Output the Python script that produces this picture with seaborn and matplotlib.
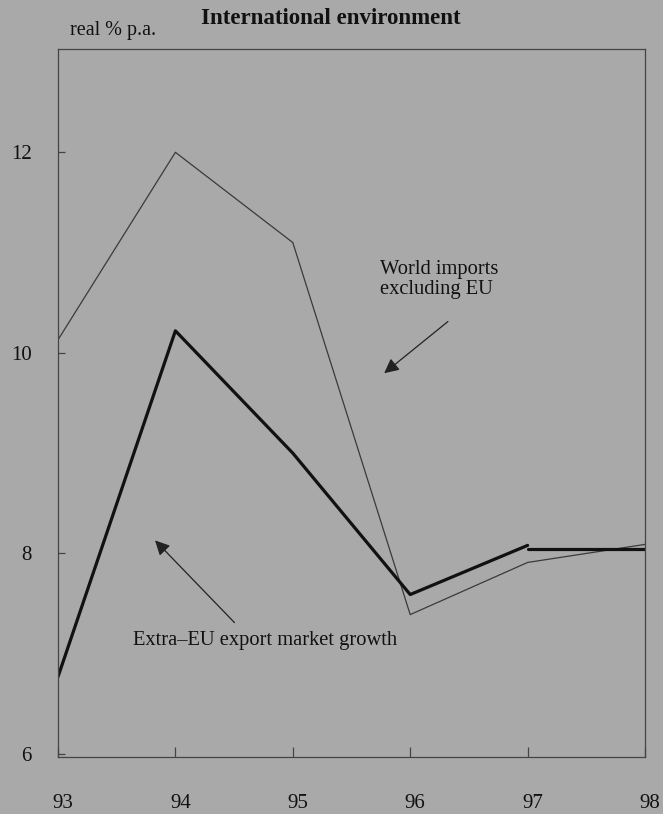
import matplotlib
matplotlib.use('Agg')
import matplotlib.pyplot as plt
import matplotlib.transforms as mtransforms
import seaborn as sns
import pandas as pd

years = [93, 94, 95, 96, 97, 98]
world_imports = [10.13, 12.0, 11.1, 7.39, 7.91, 8.09]

extra_eu_years = [93, 94, 95, 96, 97]
extra_eu = [6.77, 10.22, 9.0, 7.59, 8.08]
extra_eu_tail_years = [97, 98]
extra_eu_tail = [8.04, 8.04]

bg = '#a9a9a9'
sns.set_style('ticks')
plt.rcParams['font.family'] = ['Liberation Serif', 'DejaVu Serif']

fig = plt.figure(figsize=(6.63, 8.14), dpi=100, facecolor=bg)
ax = fig.add_axes([58 / 663, 1 - 757 / 814, (645 - 58) / 663, (757 - 49) / 814])
ax.set_facecolor(bg)

df_world = pd.DataFrame({'year': years, 'value': world_imports})
df_eu = pd.DataFrame({'year': extra_eu_years, 'value': extra_eu})
df_tail = pd.DataFrame({'year': extra_eu_tail_years, 'value': extra_eu_tail})

sns.lineplot(data=df_world, x='year', y='value', ax=ax, color='#3a3a3a', lw=0.9)
sns.lineplot(data=df_eu, x='year', y='value', ax=ax, color='#111111', lw=2.3)
sns.lineplot(data=df_tail, x='year', y='value', ax=ax, color='#111111', lw=2.3)

ax.set_xlim(93, 98)
ax.set_ylim(5.97, 13.03)
ax.set_xticks(years)
ax.set_xticklabels([str(y) for y in years])
ax.set_yticks([6, 8, 10, 12])
ax.set_xlabel('')
ax.set_ylabel('')

for side in ['left', 'right', 'top', 'bottom']:
    ax.spines[side].set_visible(True)
    ax.spines[side].set_color('#444444')
    ax.spines[side].set_linewidth(0.9)

ax.tick_params(axis='x', direction='in', length=7, width=0.9, color='#444444',
               pad=27, labelsize=15, labelcolor='#111111')
ax.tick_params(axis='y', direction='in', length=5, width=0.9, color='#444444',
               pad=19, labelsize=15, labelcolor='#111111')

# labels in the scan sit a few pixels right of their ticks
shift = mtransforms.ScaledTranslation(5 / 100, 0, fig.dpi_scale_trans)
for lab in ax.get_xticklabels():
    lab.set_transform(lab.get_transform() + shift)

fig.text(331 / 663, 1 - 18 / 814, 'International environment', ha='center', va='center',
         fontsize=16.5, fontweight='bold', color='#111111')
fig.text(70 / 663, 1 - 30 / 814, 'real % p.a.', ha='left', va='center',
         fontsize=14.5, color='#111111')

ax.annotate('', xy=(95.76, 9.78), xytext=(96.34, 10.33),
            arrowprops=dict(arrowstyle='-|>', lw=0.9, color='#222222', mutation_scale=22))
ax.text(95.74, 10.73, 'World imports\nexcluding EU', ha='left', va='center',
        fontsize=14.75, color='#111111', linespacing=1.05)

ax.annotate('', xy=(93.81, 8.15), xytext=(94.52, 7.29),
            arrowprops=dict(arrowstyle='-|>', lw=0.9, color='#222222', mutation_scale=22))
ax.text(93.64, 7.13, 'Extra\u2013EU export market growth', ha='left', va='center',
        fontsize=14.75, color='#111111')

fig.savefig('out.png', dpi=100, facecolor=bg)
